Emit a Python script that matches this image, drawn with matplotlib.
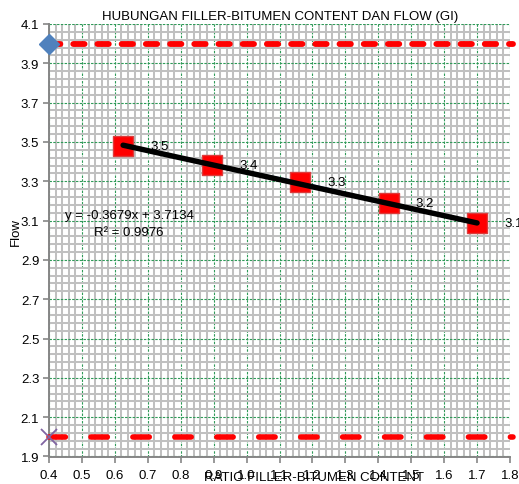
import matplotlib.pyplot as plt
import numpy as np
from matplotlib.ticker import MultipleLocator, FixedLocator

plt.rcParams['font.family'] = ['Liberation Sans', 'DejaVu Sans']

# filler / bitumen ratio vs flow
ratio = [0.625, 0.895, 1.163, 1.432, 1.70]
flow = [3.48, 3.385, 3.295, 3.19, 3.09]
flow_labels = ['3.5', '3.4', '3.3', '3.2', '3.1']

# specification limits
spec_x = [0.4, 1.81]
upper_limit = [4.0, 4.0]
lower_limit = [2.0, 2.0]

slope, intercept = -0.3679, 3.7134
r2 = 0.9976

fig = plt.figure(figsize=(5.19, 4.85), dpi=100)
ax = fig.add_axes([49 / 519, 1 - 457.5 / 485, 461 / 519, 432.5 / 485])

ax.set_xlim(0.4, 1.8)
ax.set_ylim(1.9, 4.1)
yticks = np.round(np.arange(1.9, 4.11, 0.2), 2)
yminor = [v for v in np.round(np.arange(1.9, 4.1, 0.04), 2) if not np.isclose(yticks, v).any()]
ax.xaxis.set_major_locator(MultipleLocator(0.1))
ax.xaxis.set_minor_locator(MultipleLocator(0.02))
ax.yaxis.set_major_locator(FixedLocator(yticks))
ax.yaxis.set_minor_locator(FixedLocator(yminor))
ax.grid(which='minor', color='#c0c0c0', lw=1.45, zorder=0)
ax.grid(which='major', color='#2f9a58', lw=0.8, ls=(0, (2.2, 1.2)), zorder=1)
ax.set_axisbelow(True)

for s in ax.spines.values():
    s.set_color('#868686')
    s.set_linewidth(1.4)
ax.spines['top'].set_visible(False)
ax.spines['right'].set_visible(False)
ax.tick_params(which='major', direction='out', length=4, width=1.2, color='#868686', labelsize=9.5)
ax.tick_params(axis='x', pad=5)
ax.tick_params(axis='y', pad=3)
ax.tick_params(which='minor', length=0)
ax.xaxis.set_major_formatter(plt.FuncFormatter(lambda v, p: f'{v:.1f}'))
ax.yaxis.set_major_formatter(plt.FuncFormatter(lambda v, p: f'{v:.1f}'))

# limit lines
ax.plot(spec_x, upper_limit, color='red', lw=4.2, ls=(0, (1.95, 2.2)), dash_capstyle='round', clip_on=False, zorder=3)
ax.plot(spec_x, lower_limit, color='red', lw=4.0, ls=(0, (2.95, 4.6)), dash_capstyle='round', clip_on=False, zorder=3)
ax.plot(spec_x[0], upper_limit[0], marker='D', ms=10, color='#4f81bd', clip_on=False, zorder=5)
ax.plot(spec_x[0], lower_limit[0], marker='x', ms=11, mew=1.3, color='#8064a2', clip_on=False, zorder=5)

# data series and trendline
ax.plot(ratio, flow, color='#4f81bd', lw=1.5, marker='s', ms=14, mfc='#ff0000', mec='#dd3b3b', mew=1.0, zorder=4)
tx = np.array([ratio[0], ratio[-1]])
ax.plot(tx, slope * tx + intercept, color='black', lw=3.9, solid_capstyle='round', zorder=6)

for x, y, lab in zip(ratio, flow, flow_labels):
    ax.annotate(lab, (x, y), xytext=(19.5, 0), textcoords='offset points', fontsize=9.5,
                va='center', zorder=7, annotation_clip=False)

ax.text(0.643, 3.129, f'y = {slope}x + {intercept}', fontsize=9.5, ha='center', va='center', zorder=7)
ax.text(0.643, 3.043, f'R² = {r2}', fontsize=9.5, ha='center', va='center', zorder=7)

fig.text(280 / 519, 1 - 17 / 485, 'HUBUNGAN FILLER-BITUMEN CONTENT DAN FLOW (GI)', fontsize=9.5, ha='center', va='center')
fig.text(314 / 519, 1 - 478 / 485, 'RATIO FILLER-BITUMEN CONTENT', fontsize=9.5, ha='center', va='center')
fig.text(16 / 519, 1 - 232 / 485, 'Flow', fontsize=9.5, rotation=90, ha='center', va='center')

fig.savefig('out.png', dpi=100)
